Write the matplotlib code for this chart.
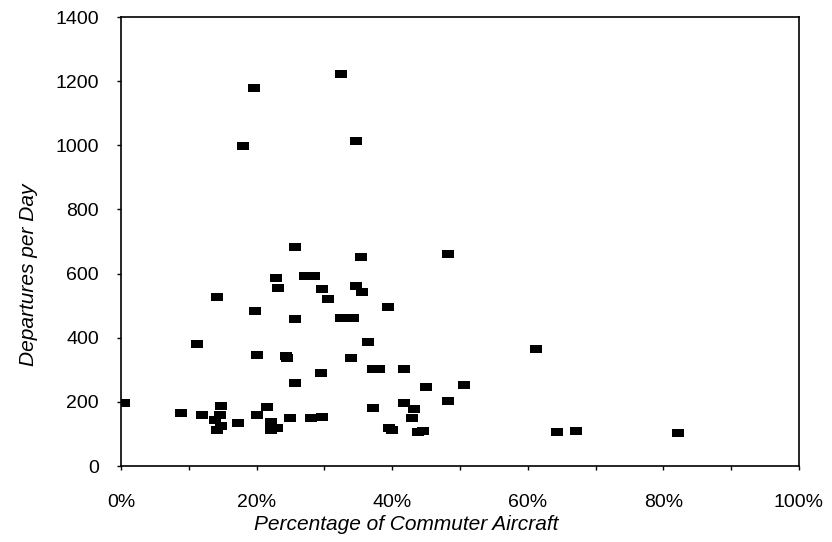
import matplotlib
matplotlib.use("Agg")
import matplotlib.pyplot as plt
from matplotlib.ticker import MultipleLocator, FuncFormatter

plt.rcParams["font.family"] = ["Liberation Sans", "DejaVu Sans"]

# share of commuter aircraft (%) and departures per day
commuter_pct = [
    0.4, 8.8, 12.0, 11.2, 14.1, 14.7, 14.6, 13.9, 14.1, 14.8, 17.2,
    18.0, 19.6, 19.7, 20.1, 20.1, 21.6, 22.1, 22.2, 23.0, 22.9, 23.1,
    24.3, 24.5, 24.9, 25.6, 25.6, 25.7, 27.2, 28.5, 28.1, 29.6, 29.5,
    29.7, 30.6, 32.4, 32.4, 34.2, 33.9, 34.7, 35.4, 34.6, 35.6, 36.4,
    37.2, 38.1, 37.2, 39.4, 39.6, 40.0, 41.8, 41.8, 42.9, 43.2, 43.8,
    44.6, 45.0, 48.2, 48.2, 50.6, 61.2, 64.3, 67.1, 82.2,
]
departures = [
    196, 164, 159, 381, 528, 187, 159, 143, 112, 125, 135,
    998, 1180, 484, 347, 159, 183, 138, 112, 117, 587, 555,
    344, 336, 149, 684, 457, 258, 593, 593, 149, 552, 291,
    154, 520, 1221, 460, 462, 338, 1012, 651, 562, 543, 386,
    302, 302, 182, 496, 118, 112, 303, 198, 149, 177, 107,
    109, 247, 661, 203, 253, 364, 107, 110, 104,
]

# flat rectangle marker like the original blobs
blob = [(-1.5, -1.0), (1.5, -1.0), (1.5, 1.0), (-1.5, 1.0), (-1.5, -1.0)]

fig = plt.figure(figsize=(8.32, 5.42), dpi=100)
ax = fig.add_axes([0.1454, 0.1402, 0.8149, 0.8284])

ax.scatter(commuter_pct, departures, marker=blob, s=74, color="black",
           linewidths=0, zorder=3)

ax.set_xlim(0, 100)
ax.set_ylim(0, 1400)
ax.xaxis.set_major_locator(MultipleLocator(20))
ax.xaxis.set_minor_locator(MultipleLocator(10))
ax.yaxis.set_major_locator(MultipleLocator(200))
ax.xaxis.set_major_formatter(FuncFormatter(lambda v, p: f"{v:.0f}%"))

ax.tick_params(axis="both", which="major", direction="out", length=3,
               width=1, labelsize=14, color="black")
ax.tick_params(axis="x", which="major", pad=17)
ax.tick_params(axis="y", which="major", pad=13)
ax.tick_params(axis="x", which="minor", direction="out", length=3, width=1)

for s in ax.spines.values():
    s.set_linewidth(1.2)
    s.set_color("black")

ax.set_xlabel("Percentage of Commuter Aircraft", fontsize=15, style="italic")
ax.xaxis.set_label_coords(0.421, -0.108)
ax.set_ylabel("Departures per Day", fontsize=15, style="italic")
ax.yaxis.set_label_coords(-0.122, 0.426)

fig.savefig("out.png", dpi=100)
